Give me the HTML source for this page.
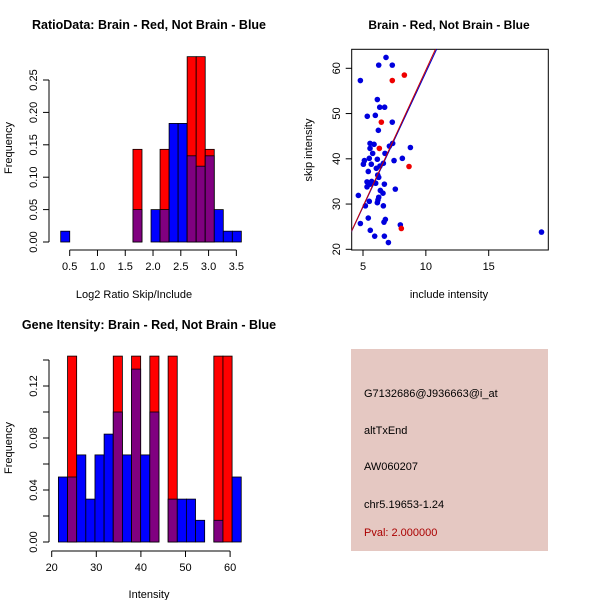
<!DOCTYPE html>
<html><head><meta charset="utf-8"><style>
body{margin:0;background:#fff}
svg{display:block;font-family:"Liberation Sans",sans-serif}
</style></head><body>
<svg id="s" width="600" height="600" xmlns="http://www.w3.org/2000/svg"></svg>
<script>
// Panel 1: ratio histogram
const ratioStart = 0.338, ratioWidth = 0.1626;
const ratioBlue = [0.0167,0,0,0,0,0,0,0,0.05,0,0.05,0.05,0.183,0.183,0.133,0.117,0.133,0.05,0.0167,0.0167];
const ratioRed  = [0,0,0,0,0,0,0,0,0.143,0,0,0.143,0,0,0.286,0.286,0.143,0,0,0];
const ratioXTicks = [0.5,1.0,1.5,2.0,2.5,3.0,3.5];
const ratioYTicks = [0,0.05,0.10,0.15,0.20,0.25];
// Panel 3: gene intensity histogram
const intStart = 21.5, intWidth = 2.05;
const intBlue = [0.05,0.05,0.067,0.033,0.067,0.083,0.1,0.067,0.133,0.067,0.1,0,0.033,0.033,0.033,0.0167,0,0.0167,0,0.05];
const intRed  = [0,0.143,0,0,0,0,0.143,0,0.143,0,0.143,0,0.143,0,0,0,0,0.143,0.143,0];
const intXTicks = [20,30,40,50,60];
const intYTicks = [0,0.04,0.08,0.12];
// Panel 2: scatter
const blueX = [6.83,6.25,7.33,4.79,6.14,6.33,6.72,5.34,5.98,7.33,6.22,5.56,5.88,5.56,5.77,7.1,7.36,8.77,6.75,5.11,5.03,5.5,6.14,5.66,6.62,7.47,8.13,6.06,6.35,5.42,6.17,6.25,5.32,5.69,6.01,5.32,5.56,6.7,6.38,7.57,6.59,4.63,6.25,6.19,6.14,5.5,5.19,6.62,5.42,6.78,6.67,4.79,7.97,5.58,5.93,6.7,7.02,19.2];
const blueY = [62.4,60.7,60.7,57.3,53.1,51.4,51.4,49.4,49.6,48.1,46.3,43.4,43.2,42.3,41.2,42.8,43.4,42.5,41.2,39.6,38.8,40.1,39.9,38.8,39.0,39.6,40.1,37.9,38.4,37.2,36.4,35.9,34.9,35.0,34.6,33.8,34.4,34.4,33.0,33.3,32.4,31.9,31.5,30.9,30.3,30.6,29.6,29.6,26.9,26.6,26.0,25.7,25.4,24.2,22.9,22.9,21.5,23.8];
const redX = [7.33,8.29,6.46,6.3,8.66,8.05];
const redY = [57.3,58.5,48.1,42.3,38.3,24.6];
const fitRed = [-0.58, 6.02];   // intercept, slope
const fitBlue = [-0.4, 5.95];
const scXTicks = [5,10,15];
const scYTicks = [20,30,40,50,60];

const S = document.getElementById('s'), NS = 'http://www.w3.org/2000/svg';
function mk(tag, attrs, parent){const e=document.createElementNS(NS,tag);for(const k in attrs)e.setAttribute(k,attrs[k]);(parent||S).appendChild(e);return e;}
function txt(x,y,s,attrs,parent){const e=mk('text',Object.assign({x:x,y:y,'font-size':11,'text-anchor':'middle',fill:'#000'},attrs||{}),parent);e.textContent=s;return e;}

function hist(g, start, w, blue, red, sx, sy){
  for(let i=0;i<blue.length;i++){
    const b=blue[i], r=red[i], x0=sx(start+i*w), x1=sx(start+(i+1)*w);
    const mx=Math.max(b,r), mn=Math.min(b,r);
    if(mx>0){
      const bar=mk('rect',{x:x0,y:sy(mx),width:x1-x0,height:sy(0)-sy(mx),fill:r>b?'#ff0000':'#0000ff',stroke:'#000','stroke-width':0.8},g);
      
      
    }
    if(mn>0){
      const ov=mk('rect',{x:x0,y:sy(mn),width:x1-x0,height:sy(0)-sy(mn),fill:'#800080',stroke:'#000','stroke-width':0.8},g);
      
      
    }
  }
}
function yAxis(g,x,ticks,sy,fmt){
  mk('line',{x1:x,x2:x,y1:sy(ticks[0]),y2:sy(ticks[ticks.length-1]),stroke:'#000'},g);
  ticks.forEach(t=>{mk('line',{x1:x-6,x2:x,y1:sy(t),y2:sy(t),stroke:'#000'},g);
    txt(x-12,sy(t),fmt(t),{transform:`rotate(-90 ${x-12} ${sy(t)})`},g);});
}
function xAxis(g,y,ticks,sx,fmt){
  mk('line',{x1:sx(ticks[0]),x2:sx(ticks[ticks.length-1]),y1:y,y2:y,stroke:'#000'},g);
  ticks.forEach(t=>{mk('line',{x1:sx(t),x2:sx(t),y1:y,y2:y+6,stroke:'#000'},g);
    txt(sx(t),y+20,fmt(t),{},g);});
}

// Panel 1
{
  const g=mk('g',{});  
  const sx=v=>69.7+(v-0.5)*55.55, sy=v=>242-v*648;
  hist(g,ratioStart,ratioWidth,ratioBlue,ratioRed,sx,sy);
  yAxis(g,49,ratioYTicks,sy,t=>t.toFixed(2));
  xAxis(g,250,ratioXTicks,sx,t=>t.toFixed(1));
  txt(149,29,'RatioData: Brain - Red, Not Brain - Blue',{'font-weight':'bold','font-size':12.5},g);
  txt(134,298,'Log2 Ratio Skip/Include',{},g);
  txt(12,148,'Frequency',{transform:'rotate(-90 12 148)'},g);
}
// Panel 3
{
  const g=mk('g',{});  
  const sx=v=>51.7+(v-20)*4.46, sy=v=>542-v*1300;
  hist(g,intStart,intWidth,intBlue,intRed,sx,sy);
  yAxis(g,49,intYTicks,sy,t=>t.toFixed(2));
  mk('line',{x1:49,x2:49,y1:sy(0.12),y2:sy(0.14),stroke:'#000'},g);
  mk('line',{x1:43,x2:49,y1:sy(0.14),y2:sy(0.14),stroke:'#000'},g);
  [0.02,0.06,0.10].forEach(t=>mk('line',{x1:43,x2:49,y1:sy(t),y2:sy(t),stroke:'#000'},g));
  xAxis(g,551,intXTicks,sx,t=>String(t));
  txt(149,329,'Gene Itensity: Brain - Red, Not Brain - Blue',{'font-weight':'bold','font-size':12.5},g);
  txt(149,598,'Intensity',{},g);
  txt(12,448,'Frequency',{transform:'rotate(-90 12 448)'},g);
}
// Panel 2
{
  const g=mk('g',{});  
  const sx=v=>363+(v-5)*12.57, sy=v=>68.3-(v-60)*4.525;
  const box=mk('rect',{x:351.7,y:49.3,width:196.6,height:200.7,fill:'none',stroke:'#000'},g);
   
  const cp=mk('clipPath',{id:'cp'},g); mk('rect',{x:351.7,y:49.3,width:196.6,height:200.7},cp);
  const pg=mk('g',{'clip-path':'url(#cp)'},g);
  for(let i=0;i<blueX.length;i++){const c=mk('circle',{cx:sx(blueX[i]),cy:sy(blueY[i]),r:2.8,fill:'#0000dd'},pg);
     }
  for(let i=0;i<redX.length;i++){const c=mk('circle',{cx:sx(redX[i]),cy:sy(redY[i]),r:2.8,fill:'#ee0000'},pg);
     }
  const xa=3.5,xb=12;
  const lb=mk('line',{x1:sx(xa),y1:sy(fitBlue[0]+fitBlue[1]*xa),x2:sx(xb),y2:sy(fitBlue[0]+fitBlue[1]*xb),stroke:'#0000cc','stroke-width':1},pg);
   
  const lr=mk('line',{x1:sx(xa),y1:sy(fitRed[0]+fitRed[1]*xa),x2:sx(xb),y2:sy(fitRed[0]+fitRed[1]*xb),stroke:'#cc0000','stroke-width':1},pg);
   
  scYTicks.forEach(t=>{mk('line',{x1:345.7,x2:351.7,y1:sy(t),y2:sy(t),stroke:'#000'},g);
    txt(340,sy(t),String(t),{transform:`rotate(-90 340 ${sy(t)})`},g);});
  scXTicks.forEach(t=>{mk('line',{x1:sx(t),x2:sx(t),y1:250,y2:256,stroke:'#000'},g);
    txt(sx(t),270,String(t),{},g);});
  txt(449,29,'Brain - Red, Not Brain - Blue',{'font-weight':'bold','font-size':12},g);
  txt(449,298,'include intensity',{},g);
  txt(312,150,'skip intensity',{transform:'rotate(-90 312 150)'},g);
}
// Panel 4
{
  const g=mk('g',{});  
  mk('rect',{x:351,y:349,width:197,height:202,fill:'#e5c8c2'},g);
  const lines=[['G7132686@J936663@i_at',397,'#000','probe-id'],['altTxEnd',434,'#000','event-type'],['AW060207',470,'#000','accession'],['chr5.19653-1.24',508,'#000','location'],['Pval: 2.000000',536,'#aa0000','p-value']];
  lines.forEach(l=>{const t=txt(364,l[1],l[0],{'text-anchor':'start',fill:l[2]},g);});
}
</script>
</body></html>
